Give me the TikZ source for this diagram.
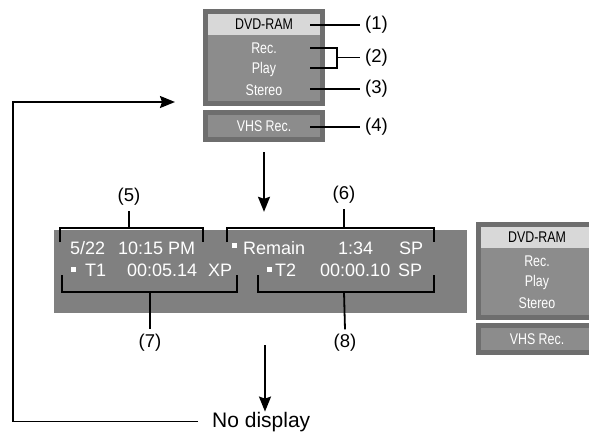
\documentclass[tikz,border=0pt]{standalone}
\usepackage{fontspec}
\setmainfont{Liberation Sans}
\newfontfamily\condfont[FakeStretch=0.8]{Liberation Sans}
\usetikzlibrary{arrows.meta}

\definecolor{framegray}{HTML}{6E6E6E}
\definecolor{panelgray}{HTML}{8C8C8C}
\definecolor{hiligray}{HTML}{D8D8D8}
\definecolor{stripgray}{HTML}{808080}

\begin{document}
\begin{tikzpicture}[
  x=1pt, y=-1pt,
  menu/.style={rectangle, draw=framegray, line width=5pt, fill=panelgray,
               inner sep=0pt, minimum width=117pt},
  hili/.style={rectangle, fill=hiligray, inner sep=0pt,
               minimum width=112pt, minimum height=21pt},
  item/.style={font=\condfont\fontsize{15.5}{15.5}\selectfont, text=white,
               inner sep=0pt},
  lcd/.style={font=\fontsize{18}{18}\selectfont, text=white, inner sep=0pt,
              anchor=base west},
  dot/.style={rectangle, fill=white, inner sep=0pt, minimum size=5pt},
  num/.style={font=\fontsize{18.5}{18.5}\selectfont, inner sep=0pt,
              outer sep=5pt},
  lead/.style={line width=1.8pt},
  arr/.style={-{Stealth[length=15pt, width=12pt, inset=2pt]}, line width=1.8pt}
]
\clip (0,0) rectangle (589,432);

% menu panel on top
\node[menu, minimum height=92pt] (menuA) at (264,57.5) {};
\node[hili] (hiA) at (264,24.5) {};
\node[item, text=black] (dvdA) at (264,24.5) {DVD-RAM};
\node[item] (recA) at (264,48) {Rec.};
\node[item] (playA) at (264,69) {Play};
\node[item] (stereoA) at (264,90) {Stereo};
\node[menu, minimum height=27pt] (vhsboxA) at (264,126) {};
\node[item] (vhsA) at (264,126) {VHS Rec.};

% leaders (1)-(4)
\node[num] (n1) at (376.5,25) {(1)};
\node[num] (n2) at (376.5,57.5) {(2)};
\node[num] (n3) at (376.5,89) {(3)};
\node[num] (n4) at (376.5,127) {(4)};
\coordinate (p1) at (310,25);
\coordinate (p2a) at (310,48);
\coordinate (p2b) at (310,68);
\coordinate (b2) at (337,57.5);
\coordinate (p3) at (310,89);
\coordinate (p4) at (310,127);
\draw[lead] (p1) -- (n1.west);
\draw[lead] (p2a) -| (b2) |- (p2b);
\draw[lead] (b2) -- (n2.west);
\draw[lead] (p3) -- (n3.west);
\draw[lead] (p4) -- (n4.west);

% display strip
\node[rectangle, fill=stripgray, inner sep=0pt, minimum width=413pt,
      minimum height=83pt] (strip) at (260.5,271.5) {};
\draw[arr, shorten <=10pt, shorten >=18pt] (vhsboxA.south) -- (vhsboxA.south |- strip.north);

\node[lcd] (date) at (70,254) {5/22};
\node[lcd] (clock) at (118,254) {10:15 PM};
\node[dot] (dotA) at (73.5,269.5) {};
\node[lcd] (tA) at (85,276) {T1};
\node[lcd] (timeA) at (127,276) {00:05.14};
\node[lcd] (modeA) at (208,276) {XP};
\node[dot] (dotB) at (234.5,245.5) {};
\node[lcd] (remain) at (243,254) {Remain};
\node[lcd] (left) at (338,254) {1:34};
\node[lcd] (modeB) at (399,254) {SP};
\node[dot] (dotC) at (269,269.5) {};
\node[lcd] (tB) at (275,276) {T2};
\node[lcd] (timeB) at (320,276) {00:00.10};
\node[lcd] (modeC) at (398,276) {SP};

% brackets (5)-(8)
\node[num] (n5) at (129,197) {(5)};
\node[num] (n6) at (344,195) {(6)};
\node[num] (n7) at (150,343) {(7)};
\node[num] (n8) at (345,343) {(8)};
\coordinate (c5) at (129,228);
\coordinate (c6) at (344,228);
\coordinate (c7) at (150,292);
\coordinate (c8) at (344,292);
\draw[lead] (60,242) |- (c5) -| (203,242);
\draw[lead] (c5) -- (n5.south);
\draw[lead] (227,242) |- (c6) -| (434,242);
\draw[lead] (c6) -- (n6.south);
\draw[lead] (62,275) |- (c7) -| (237,275);
\draw[lead] (c7) -- (n7.north);
\draw[lead] (258,275) |- (c8) -| (434,275);
\draw[lead] (c8) -- (n8.north);

% menu panel on the right
\node[menu, minimum height=93pt] (menuB) at (537,271) {};
\node[hili] (hiB) at (537,237.5) {};
\node[item, text=black] (dvdB) at (537,237.5) {DVD-RAM};
\node[item] (recB) at (537,261) {Rec.};
\node[item] (playB) at (537,282) {Play};
\node[item] (stereoB) at (537,303) {Stereo};
\node[menu, minimum height=27pt] (vhsboxB) at (537,339) {};
\node[item] (vhsB) at (537,339) {VHS Rec.};

% no display and the way back
\node[font=\fontsize{21}{21}\selectfont, inner sep=0pt, anchor=base west]
  (nodisp) at (212,427) {No display};
\draw[arr, shorten <=32pt] (strip.south -| 265,0) -- (nodisp.north -| 265,0);
\coordinate (turn) at (13,102);
\coordinate (back) at (175,102);
\draw[arr, shorten <=14pt] (nodisp.west) -| (turn) -- (back);

\end{tikzpicture}
\end{document}
